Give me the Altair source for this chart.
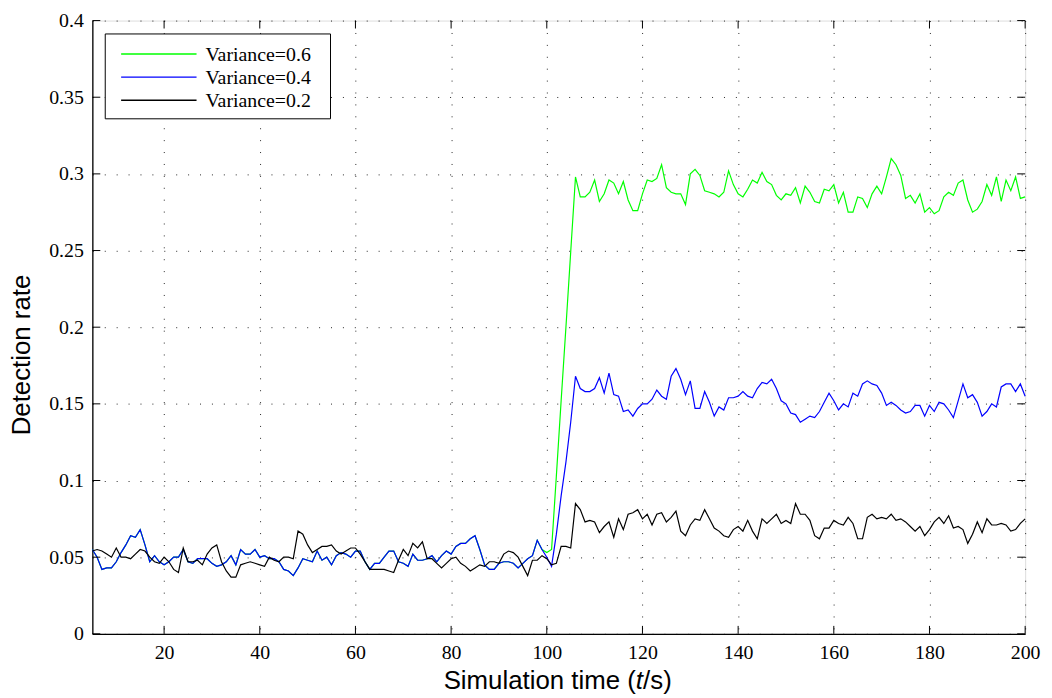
import altair as alt
import pandas as pd

# time axis (s)
time_s = list(range(5, 201))

# Variance=0.6 (green) -- hidden beneath blue before t=100
var06_a = [0.055, 0.050, 0.042, 0.043, 0.043, 0.047, 0.053, 0.058, 0.064, 0.063,
           0.068, 0.058, 0.047, 0.051, 0.047, 0.045, 0.047, 0.050, 0.050, 0.055,
           0.047, 0.046, 0.049, 0.049, 0.049, 0.046, 0.044, 0.045, 0.047, 0.051,
           0.045, 0.055, 0.052, 0.052, 0.055, 0.050, 0.051, 0.049, 0.049, 0.047,
           0.042, 0.041, 0.038, 0.043, 0.049, 0.048, 0.047, 0.054, 0.048, 0.050]
var06_b = [0.045, 0.051, 0.053, 0.052, 0.050, 0.054, 0.054, 0.047, 0.042, 0.046,
           0.046, 0.050, 0.054, 0.054, 0.047, 0.046, 0.044, 0.052, 0.048, 0.048,
           0.049, 0.051, 0.047, 0.051, 0.054, 0.052, 0.057, 0.059, 0.059, 0.062,
           0.064, 0.055, 0.045, 0.042, 0.042, 0.046, 0.047, 0.047, 0.046, 0.043,
           0.046, 0.049, 0.051, 0.061, 0.055, 0.053, 0.055]
var06_c = [0.103, 0.152, 0.200, 0.249]
var06_d = [0.298, 0.285, 0.285, 0.288, 0.296, 0.282, 0.287, 0.296, 0.294, 0.287,
           0.295, 0.283, 0.276, 0.276, 0.287, 0.296, 0.295, 0.297, 0.306, 0.291,
           0.288, 0.287, 0.287, 0.280, 0.300, 0.303, 0.299, 0.289, 0.288, 0.287,
           0.285, 0.288, 0.302, 0.293, 0.287, 0.285, 0.290, 0.296, 0.294, 0.301,
           0.295, 0.293, 0.286, 0.283]
var06_e = [0.287, 0.286, 0.291, 0.281, 0.292, 0.288, 0.282, 0.281, 0.290, 0.289,
           0.293, 0.281, 0.288, 0.275, 0.275, 0.285, 0.284, 0.278, 0.287, 0.292,
           0.287, 0.298, 0.310, 0.306, 0.299, 0.284, 0.286, 0.281, 0.287, 0.275,
           0.278, 0.274, 0.276, 0.285, 0.288, 0.286, 0.294, 0.296, 0.283, 0.275,
           0.277, 0.282, 0.293, 0.286, 0.298, 0.282, 0.296, 0.289, 0.298, 0.284,
           0.285]

# Variance=0.4 (blue)
var04_a = [0.055, 0.050, 0.042, 0.043, 0.043, 0.047, 0.053, 0.058, 0.064, 0.063,
           0.068, 0.058, 0.047, 0.051, 0.047, 0.045, 0.047, 0.050, 0.050, 0.055,
           0.047, 0.046, 0.049, 0.049, 0.049, 0.046, 0.044, 0.045, 0.047, 0.051,
           0.045, 0.055, 0.052, 0.052, 0.055, 0.050, 0.051, 0.049, 0.049, 0.047,
           0.042, 0.041, 0.038, 0.043, 0.049, 0.048, 0.047, 0.054, 0.048, 0.050]
var04_b = [0.045, 0.051, 0.053, 0.052, 0.050, 0.054, 0.054, 0.047, 0.042, 0.046,
           0.046, 0.050, 0.054, 0.054, 0.047, 0.046, 0.044, 0.052, 0.048, 0.048,
           0.049, 0.051, 0.047, 0.051, 0.054, 0.052, 0.057, 0.059, 0.059, 0.062,
           0.064, 0.055, 0.045, 0.042, 0.042, 0.046, 0.047, 0.047, 0.046, 0.043,
           0.046, 0.049, 0.051, 0.061, 0.055, 0.050, 0.044]
var04_c = [0.065, 0.090, 0.112, 0.138]
var04_d = [0.168, 0.160, 0.158, 0.158, 0.160, 0.167, 0.157, 0.170, 0.156, 0.155,
           0.145, 0.146, 0.142, 0.147, 0.150, 0.150, 0.153, 0.159, 0.155, 0.153,
           0.168, 0.173, 0.166, 0.156, 0.165, 0.147, 0.147, 0.158, 0.151, 0.142,
           0.148, 0.146, 0.154, 0.154, 0.155, 0.158, 0.155, 0.154, 0.160, 0.164,
           0.163, 0.166, 0.160, 0.152]
var04_e = [0.150, 0.144, 0.143, 0.138, 0.140, 0.142, 0.141, 0.145, 0.151, 0.157,
           0.152, 0.146, 0.150, 0.148, 0.157, 0.155, 0.163, 0.165, 0.163, 0.162,
           0.157, 0.149, 0.151, 0.149, 0.146, 0.144, 0.145, 0.149, 0.149, 0.142,
           0.149, 0.145, 0.151, 0.150, 0.146, 0.141, 0.152, 0.163, 0.154, 0.156,
           0.151, 0.142, 0.145, 0.150, 0.148, 0.161, 0.163, 0.163, 0.158, 0.163,
           0.155]

# Variance=0.2 (black)
var02_a = [0.054, 0.055, 0.054, 0.052, 0.050, 0.056, 0.050, 0.050, 0.049, 0.052,
           0.055, 0.054, 0.050, 0.047, 0.046, 0.050, 0.047, 0.042, 0.040, 0.056,
           0.047, 0.047, 0.048, 0.045, 0.052, 0.056, 0.058, 0.047, 0.041, 0.037,
           0.037, 0.045, 0.046, 0.047, 0.046, 0.045, 0.044, 0.050, 0.048, 0.047,
           0.050, 0.050, 0.049, 0.067, 0.065, 0.058, 0.053, 0.055, 0.057, 0.057]
var02_b = [0.058, 0.054, 0.052, 0.054, 0.056, 0.056, 0.052, 0.047, 0.042, 0.042,
           0.042, 0.042, 0.041, 0.040, 0.048, 0.055, 0.051, 0.059, 0.056, 0.060,
           0.049, 0.049, 0.046, 0.043, 0.046, 0.049, 0.050, 0.046, 0.044, 0.041,
           0.043, 0.045, 0.044, 0.047, 0.047, 0.046, 0.052, 0.054, 0.053, 0.050,
           0.044, 0.038, 0.048, 0.048, 0.051, 0.049, 0.045, 0.046]
var02_c = [0.057, 0.057, 0.056, 0.085, 0.081, 0.073, 0.074, 0.073, 0.066, 0.070,
           0.073, 0.063, 0.075, 0.068, 0.078, 0.079, 0.081, 0.075, 0.078, 0.071,
           0.078, 0.079, 0.073, 0.076, 0.080, 0.067, 0.064, 0.071, 0.075, 0.074,
           0.081, 0.075, 0.069, 0.067, 0.064, 0.063, 0.068, 0.070, 0.067, 0.074,
           0.067, 0.062, 0.075, 0.072, 0.075, 0.078, 0.072]
var02_d = [0.074, 0.072, 0.085, 0.078, 0.078, 0.074, 0.064, 0.062, 0.069, 0.069,
           0.074, 0.072, 0.071, 0.076, 0.072, 0.062, 0.062, 0.076, 0.078, 0.075,
           0.076, 0.075, 0.078, 0.074, 0.075, 0.073, 0.070, 0.067, 0.070, 0.064,
           0.068, 0.073, 0.076, 0.072, 0.077, 0.069, 0.070, 0.068, 0.059, 0.065,
           0.073, 0.066, 0.075, 0.071, 0.071, 0.072, 0.071, 0.067, 0.068, 0.072,
           0.075]

series_names = ["Variance=0.6", "Variance=0.4", "Variance=0.2"]
series_colors = ["#00ff00", "#0000ff", "#000000"]
x_ticks = [20, 40, 60, 80, 100, 120, 140, 160, 180, 200]
y_ticks = [0, 0.05, 0.1, 0.15, 0.2, 0.25, 0.3, 0.35, 0.4]

var06 = var06_a + var06_b + var06_c + var06_d + var06_e
var04 = var04_a + var04_b + var04_c + var04_d + var04_e
var02 = var02_a + var02_b + var02_c + var02_d

rows = []
for name, vals in zip(series_names, [var06, var04, var02]):
    for t, v in zip(time_s, vals):
        rows.append({"t": t, "rate": v, "series": name})
df = pd.DataFrame(rows)

W, H = 940, 618
TL = 8  # inward tick length

xs = alt.Scale(domain=[5, 200], nice=False, zero=False)
ys = alt.Scale(domain=[0, 0.4], nice=False, zero=False)

x_axis = alt.Axis(values=x_ticks, title=None, ticks=False, grid=True, labelFlush=False,
                  labelFont="Liberation Serif", labelFontSize=20, labelColor="black",
                  labelPadding=9, domainColor="black", domainWidth=1.3,
                  gridColor="black", gridDash=[1, 11], gridOpacity=0.85)
y_axis = alt.Axis(values=y_ticks, title=None, ticks=False, grid=True, format="~g",
                  labelFlush=False,
                  labelFont="Liberation Serif", labelFontSize=20, labelColor="black",
                  labelPadding=9, domainColor="black", domainWidth=1.3,
                  gridColor="black", gridDash=[1, 11], gridOpacity=0.85)

color = alt.Color("series:N",
                  scale=alt.Scale(domain=series_names, range=series_colors),
                  legend=None)


def series_layer(name):
    return alt.Chart(df).transform_filter(alt.datum.series == name).mark_line(
        strokeWidth=1.2).encode(
        x=alt.X("t:Q", scale=xs, axis=x_axis),
        y=alt.Y("rate:Q", scale=ys, axis=y_axis),
        color=color,
        order="t:Q",
    )


xt = pd.DataFrame({"v": x_ticks})
yt = pd.DataFrame({"v": y_ticks})
tick_bottom = alt.Chart(xt).mark_rule(color="black", strokeWidth=1).encode(
    x=alt.X("v:Q", scale=xs, axis=x_axis), y=alt.value(H), y2=alt.value(H - TL))
tick_top = alt.Chart(xt).mark_rule(color="black", strokeWidth=1).encode(
    x=alt.X("v:Q", scale=xs, axis=x_axis), y=alt.value(0), y2=alt.value(TL))
tick_left = alt.Chart(yt).mark_rule(color="black", strokeWidth=1).encode(
    y=alt.Y("v:Q", scale=ys, axis=y_axis), x=alt.value(0), x2=alt.value(TL))
tick_right = alt.Chart(yt).mark_rule(color="black", strokeWidth=1).encode(
    y=alt.Y("v:Q", scale=ys, axis=y_axis), x=alt.value(W), x2=alt.value(W - TL))

one = pd.DataFrame({"k": [0]})

# legend (manual, MATLAB style box)
legend_box = alt.Chart(one).mark_rect(fill="white", stroke="black", strokeWidth=1).encode(
    x=alt.value(13), x2=alt.value(240), y=alt.value(13.5), y2=alt.value(99))
legend_layers = [legend_box]
row_y = [33.7, 57.0, 80.3]
for name, col, ry in zip(series_names, series_colors, row_y):
    legend_layers.append(alt.Chart(one).mark_rule(color=col, strokeWidth=1.3).encode(
        x=alt.value(29), x2=alt.value(105), y=alt.value(ry)))
    legend_layers.append(alt.Chart(one).mark_text(
        text=name, font="Liberation Serif", fontSize=20, align="left",
        baseline="middle", color="black").encode(x=alt.value(114), y=alt.value(ry + 1)))

title_font = "Liberation Sans"
TS = 26
TY = 674
xt1 = alt.Chart(one).mark_text(text="Simulation time (", font=title_font, fontSize=TS,
                               align="left", baseline="alphabetic", color="black").encode(
    x=alt.value(354), y=alt.value(TY))
xt2 = alt.Chart(one).mark_text(text="t", font=title_font, fontSize=TS, fontStyle="italic",
                               align="left", baseline="alphabetic", color="black").encode(
    x=alt.value(547.5), y=alt.value(TY))
xt3 = alt.Chart(one).mark_text(text="/s)", font=title_font, fontSize=TS,
                               align="left", baseline="alphabetic", color="black").encode(
    x=alt.value(555), y=alt.value(TY))
ytl = alt.Chart(one).mark_text(text="Detection rate", font=title_font, fontSize=TS,
                               angle=270, align="center", baseline="middle",
                               color="black").encode(
    x=alt.value(-71), y=alt.value(337))

chart = alt.layer(
    series_layer("Variance=0.6"),
    series_layer("Variance=0.4"),
    series_layer("Variance=0.2"),
    tick_bottom, tick_top, tick_left, tick_right,
    *legend_layers,
    xt1, xt2, xt3, ytl,
).properties(
    width=W, height=H,
    autosize=alt.AutoSizeParams(type="none"),
    padding={"left": 85, "top": 10, "right": 19, "bottom": 62},
).configure_view(
    stroke="black", strokeWidth=1.3
).configure(background="white")

chart.save("out.html", embed_options={"renderer": "svg", "actions": False})
